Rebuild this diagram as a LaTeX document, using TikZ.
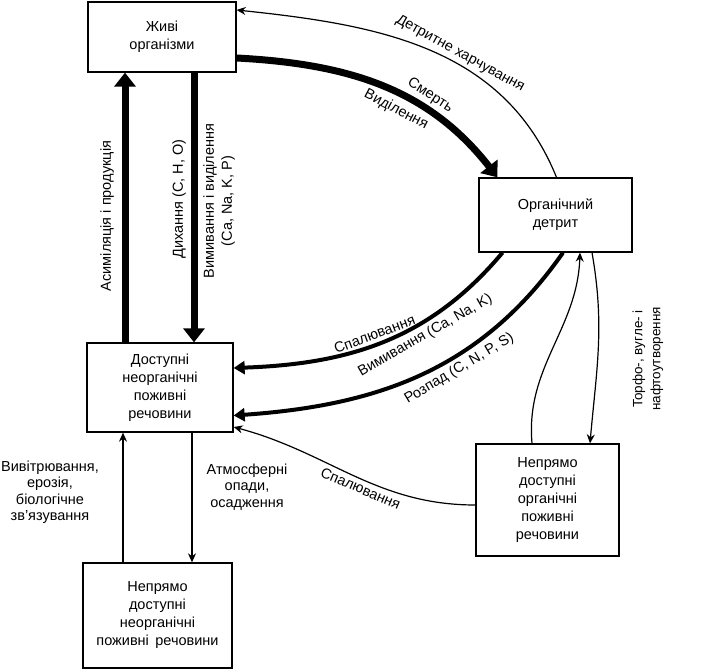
\documentclass[tikz,border=0pt]{standalone}
\usepackage{fontspec}
\setmainfont{Liberation Sans}
\usetikzlibrary{arrows.meta,positioning,calc}

\begin{document}
\begin{tikzpicture}[x=1pt,y=1pt,
		  every node/.style={font=\fontsize{14.5}{18}\selectfont},
		  box/.style={draw,line width=1.3pt,rectangle,align=center,inner sep=0pt},
		  bigarrow/.style={line width=7pt,-{Triangle[length=14pt,width=21pt]}},
		  midarrow/.style={line width=4pt,-{Triangle[length=11pt,width=13pt]}},
		  thinarrow/.style={line width=1.2pt,-{Stealth[length=9pt,width=8pt]}},
		  lbl/.style={inner sep=1pt,align=center}
		]

			\useasboundingbox (0,0) rectangle (702,-671);

			% the boxes
			\node[box,minimum width=148pt,minimum height=70pt] (living) at (162,-37) {Живі\\організми};
			\node[box,minimum width=153pt,minimum height=74pt] (detritus) at (555.5,-215) {Органічний\\детрит};
			\node[box,minimum width=146pt,minimum height=89pt] (inorg) at (160,-387.5) {Доступні\\неорганічні\\поживні\\речовини};
			\node[box,minimum width=149pt,minimum height=105pt] (indinorg) at (157.5,-615.5) {Непрямо\\доступні\\неорганічні\\поживні\, речовини};
			\node[box,minimum width=143pt,minimum height=112pt] (indorg) at (547.5,-500) {Непрямо\\доступні\\органічні\\поживні\\речовини};

			% living <-> inorganic
			\draw[bigarrow] ([xshift=-35pt]inorg.north) -- ([xshift=-35pt]inorg.north |- living.south);
			\draw[bigarrow] ([xshift=32pt]living.south) -- ([xshift=32pt]living.south |- inorg.north);
			\node[lbl,rotate=90] (assim) at (107,-216) {Асиміляція і продукція};
			\node[lbl,rotate=90] (resp) at (179,-199) {Дихання (C, H, O)};
			\node[lbl,rotate=90] (leach) at (219,-201) {Вимивання і виділення\\(Ca, Na, K, P)};

			% living <-> detritus
			\draw[bigarrow] ([yshift=-21pt]living.east) to[out=-3,in=128]
			  node[lbl,pos=0.66,sloped,above=3pt] (death) {Смерть}
			  node[lbl,pos=0.58,sloped,below=4pt] (excr) {Виділення}
			  ([xshift=-58pt]detritus.north);
			\draw[thinarrow] ([xshift=1pt]detritus.north) to[out=112,in=-6]
			  node[lbl,pos=0.42,sloped,above=2pt] (feed) {Детритне харчування}
			  ([yshift=27pt]living.east);

			% detritus -> inorganic
			\draw[midarrow] ([xshift=-53pt]detritus.south) to[out=-130,in=2]
			  node[lbl,pos=0.52,sloped,above=2pt] (burn) {Спалювання}
			  node[lbl,pos=0.36,sloped,below=3pt] (wash) {Вимивання (Ca, Na, K)}
			  ([yshift=19.5pt]inorg.east);
			\draw[midarrow] ([xshift=7.5pt]detritus.south) to[out=-125,in=4]
			  node[lbl,pos=0.4,sloped,below=3pt] (decay) {Розпад (C, N, P, S)}
			  ([yshift=-28pt]inorg.east);

			% detritus <-> indirect organic
			\draw[thinarrow] ([xshift=-15.5pt]indorg.north) to[out=95,in=-92] ([xshift=24.5pt]detritus.south);
			\draw[thinarrow] ([xshift=36.5pt]detritus.south) to[out=-80,in=85] ([xshift=42.5pt]indorg.north);
			\node[lbl,rotate=90,font=\fontsize{13.5}{18}\selectfont] (peat) at (648,-359) {Торфо-, вугле- і\\нафтоутворення};

			% indirect organic -> inorganic
			\draw[thinarrow] ([yshift=-5pt]indorg.west) to[out=180,in=-15]
			  node[lbl,pos=0.45,sloped,below=2pt] (burn2) {Спалювання}
			  ([yshift=-39.5pt]inorg.east);

			% inorganic <-> indirect inorganic
			\draw[thinarrow] ([xshift=-34.5pt]indinorg.north) -- ([xshift=-34.5pt]indinorg.north |- inorg.south);
			\draw[thinarrow] ([xshift=32pt]inorg.south) -- ([xshift=32pt]inorg.south |- indinorg.north);
			\node[lbl,font=\fontsize{14.5}{16.5}\selectfont] (weath) at (50,-492) {Вивітрювання,\\ерозія,\\біологічне\\зв’язування};
			\node[lbl,font=\fontsize{14.5}{16.5}\selectfont] (rain) at (247,-487) {Атмосферні\\опади,\\осадження};

		\end{tikzpicture}
\end{document}
